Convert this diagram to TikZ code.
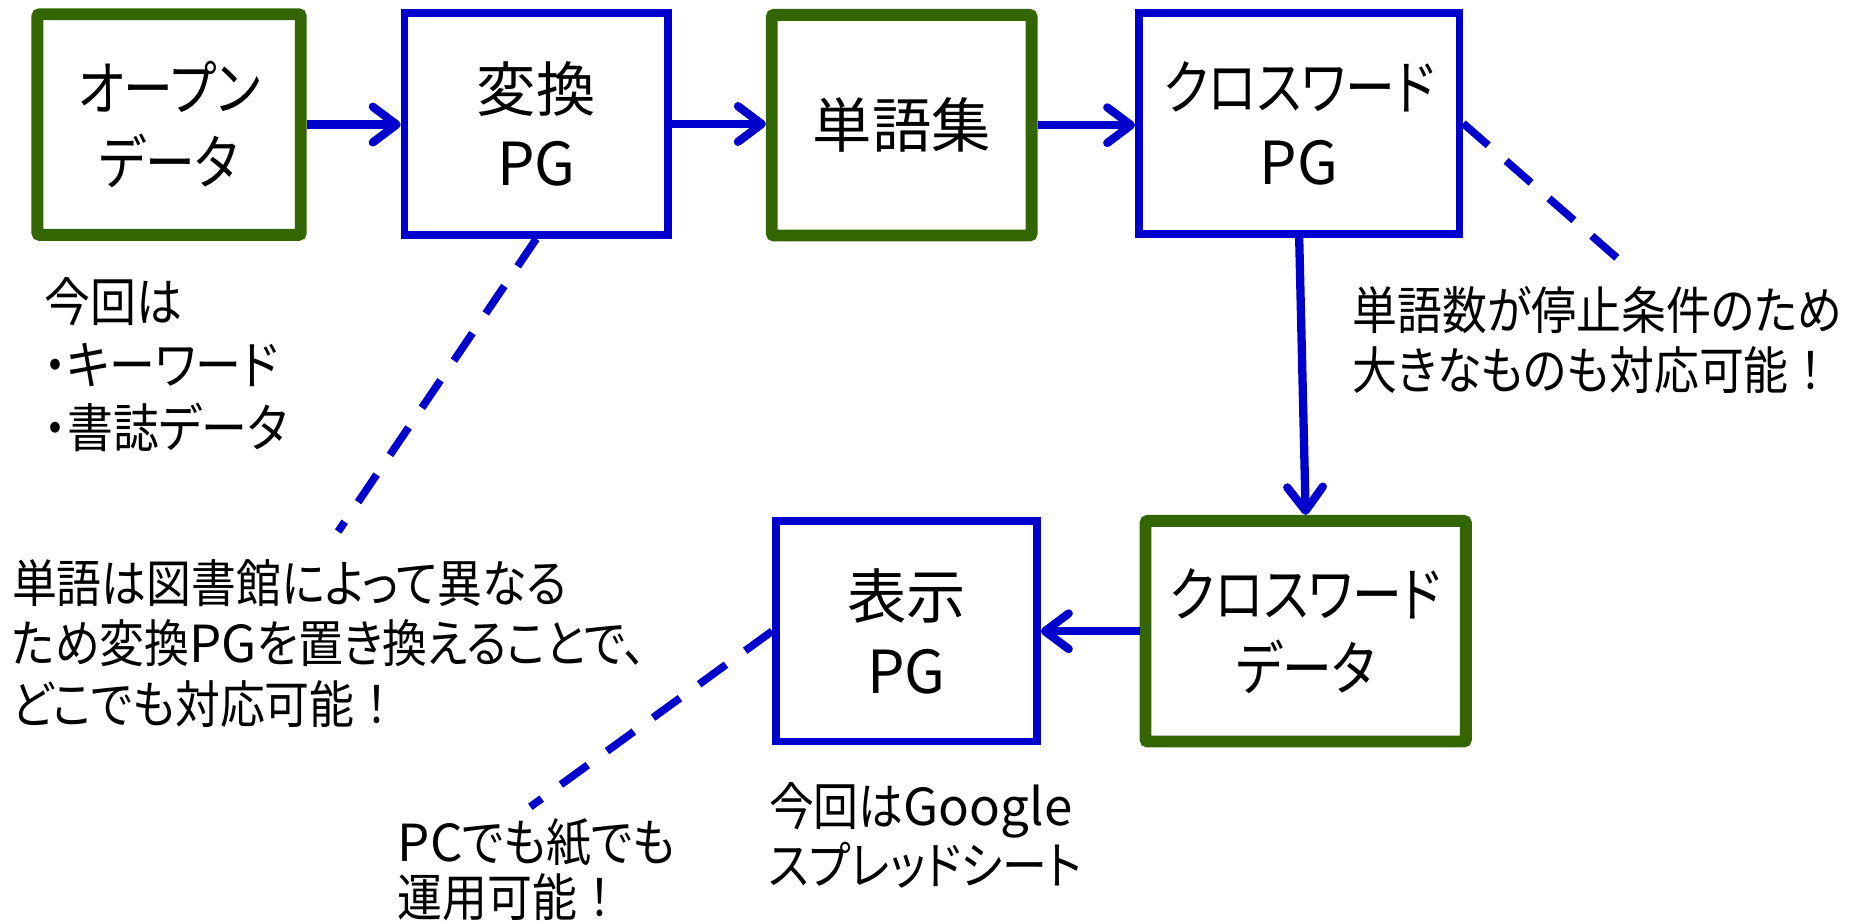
\documentclass[tikz,border=0pt]{standalone}
\usepackage{fontspec}
\setmainfont{Noto Sans CJK JP}[RawFeature=+palt]
\newfontfamily\jcapfont{Noto Sans CJK JP}[RawFeature=+palt, FakeStretch=0.88]
\newfontfamily\jfwfont{Noto Sans CJK JP}[FakeStretch=0.88]
\newfontfamily\jkfont{Noto Sans CJK JP}[RawFeature=+palt, FakeStretch=0.84]
\usetikzlibrary{arrows.meta}
\definecolor{bgreen}{RGB}{51,102,0}
\definecolor{bblue}{RGB}{0,0,204}
\newcommand\boxfont{\fontsize{50}{63}\selectfont}
\newcommand\capfont{\fontsize{43}{51}\selectfont\jcapfont}
\newcommand\kn[1]{{\jkfont #1}}
\newcommand\lat[1]{{\normalfont #1}}
\newcommand\fw[1]{{\jfwfont #1}}
\begin{document}
\begin{tikzpicture}[x=1pt,y=-1pt,
  gbox/.style={draw=bgreen, line width=10pt, rounded corners=2pt, align=center, inner sep=0pt, font=\boxfont},
  bbox/.style={draw=bblue, line width=6.5pt, align=center, inner sep=0pt, font=\boxfont},
  flow/.style={draw=bblue, line width=7pt, -{Straight Barb[length=20pt,width=30pt,round]}},
  note/.style={draw=bblue, line width=6.5pt, dash pattern=on 28pt off 20pt},
  captxt/.style={align=left, inner sep=0pt, font=\capfont, anchor=north west}]
\useasboundingbox (0,0) rectangle (1566,778);
\node[gbox, minimum width=222pt, minimum height=186pt] (b1) at (142.5,105) {\kn{オープン}\\\kn{データ}};
\node[bbox, minimum width=222pt, minimum height=187pt] (b2) at (452,104.5) {変換\\PG};
\node[gbox, minimum width=219pt, minimum height=186pt] (b3) at (760,105.5) {単語集};
\node[bbox, minimum width=270pt, minimum height=186pt] (b4) at (1095,104) {\kn{クロスワード}\\PG};
\node[gbox, minimum width=270pt, minimum height=186pt] (b5) at (1100.5,532) {\kn{クロスワード}\\\kn{データ}};
\node[bbox, minimum width=220pt, minimum height=186pt] (b6) at (764,532) {表示\\PG};
\draw[flow] (b1.east) -- (b2.west |- b1.east);
\draw[flow] (b2.east) -- (b3.west |- b2.east);
\draw[flow] (b3.east) -- (b4.west |- b3.east);
\draw[flow] (b4.south) -- (b5.north);
\draw[flow] (b5.west) -- (b6.east);
\coordinate (d1) at (285,448);
\coordinate (d2) at (1375,228);
\coordinate (d3) at (447,680);
\draw[note] (b2.south) -- (d1);
\draw[note] (b4.east) -- (d2);
\draw[note] (b6.west) -- (d3);
\node[captxt, font=\fontsize{44}{53}\selectfont\jcapfont] (t1) at (37,234) {今回は\\・キーワード\\・書誌データ};
\node[captxt] (t2) at (10,471) {単語は図書館によって異なる\\ため変換\lat{PG}を置き換えることで、\\どこでも対応可能\fw{！}};
\node[captxt] (t3) at (1140,241) {単語数が停止条件のため\\大きなものも対応可能\fw{！}};
\node[captxt, font=\fontsize{43}{50}\selectfont\jcapfont] (t4) at (648,659) {今回は\lat{Google}\\スプレッドシート};
\node[captxt, font=\fontsize{43}{46}\selectfont\jcapfont] (t5) at (335,690) {\lat{PC}でも紙でも\\運用可能\fw{！}};
\end{tikzpicture}
\end{document}
